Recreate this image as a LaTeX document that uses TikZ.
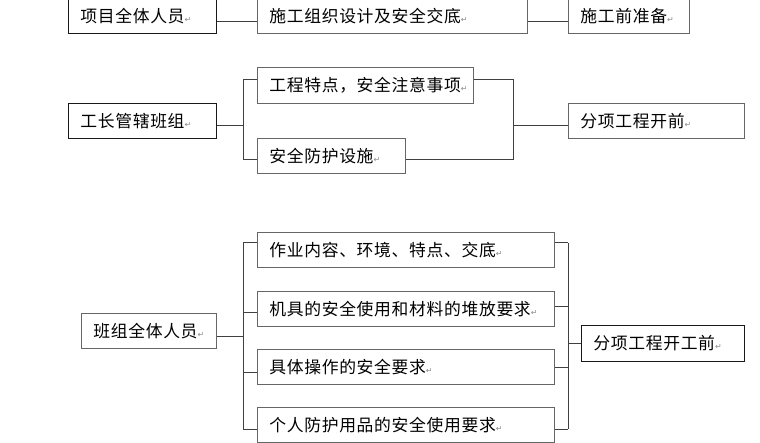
\documentclass[tikz,border=0pt]{standalone}
\usepackage{fontspec}
\newfontfamily\cjk[LetterSpace=4]{Noto Sans CJK SC}
\newfontfamily\markfont{DejaVu Sans}
\usetikzlibrary{positioning}
\newcommand{\retmark}{{\markfont\fontsize{8}{8}\selectfont\textcolor{black!45}{↵}}}
\tikzset{
  stepbox/.style={
    draw=black!60, line width=0.8pt,
    rectangle, anchor=north west,
    minimum height=35pt, inner xsep=12pt, inner ysep=0pt,
    align=left, font=\cjk\fontsize{16.8}{18}\selectfont
  },
  leadbox/.style={
    stepbox, draw=black!90
  },
  linkline/.style={
    draw=black!75, line width=1pt
  }
}

\begin{document}
\begin{tikzpicture}[x=1pt, y=-1pt]
    \useasboundingbox (0,0) rectangle (760,443);
    % first row
    \node[leadbox, text width=124pt] (p1) at (68,-2) {项目全体人员\retmark};
    \node[stepbox, text width=246pt] (p2) at (257,-2) {施工组织设计及安全交底\retmark};
    \node[stepbox, text width=97pt] (p3) at (568,-2) {施工前准备\retmark};
    \coordinate (r1) at (0,22);
    \draw[linkline] (p1.east |- r1) -- (p2.west |- r1);
    \draw[linkline] (p2.east |- r1) -- (p3.west |- r1);
    % second row
    \node[leadbox, text width=124pt] (f) at (68,103) {工长管辖班组\retmark};
    \node[stepbox, text width=192pt, minimum height=36pt] (f1) at (257,67) {工程特点，安全注意事项\retmark};
    \node[stepbox, text width=124pt] (f2) at (257,138) {安全防护设施\retmark};
    \node[stepbox, text width=152pt] (f3) at (568,103) {分项工程开前\retmark};
    \coordinate (s2l) at (243,126);
    \coordinate (s2r) at (513,126);
    \coordinate (a2) at (0,80);
    \coordinate (b2) at (0,160);
    \draw[linkline] (f.east |- s2l) -- (s2l);
    \draw[linkline] (f1.west |- a2) -- (s2l |- a2) -- (s2l |- b2) -- (f2.west |- b2);
    \draw[linkline] (f1.east |- a2) -- (s2r |- a2) -- (s2r |- b2) -- (f2.east |- b2);
    \draw[linkline] (s2r) -- (f3.west |- s2r);
    % third row
    \node[stepbox, text width=111pt] (g) at (81,313) {班组全体人员\retmark};
    \node[stepbox, text width=273pt] (g1) at (257,232) {作业内容、环境、特点、交底\retmark};
    \node[stepbox, text width=273pt] (g2) at (257,291) {机具的安全使用和材料的堆放要求\retmark};
    \node[stepbox, text width=273pt] (g3) at (257,349) {具体操作的安全要求\retmark};
    \node[stepbox, text width=273pt] (g4) at (257,407) {个人防护用品的安全使用要求\retmark};
    \node[leadbox, text width=139pt, minimum height=36pt] (g5) at (581,325) {分项工程开工前\retmark};
    \coordinate (s3l) at (243,337);
    \coordinate (s3r) at (568,344);
    \foreach \n/\yl/\yr in {g1/243/243, g2/313/307, g3/372/367, g4/429/429} {
      \coordinate (l\n) at (243,\yl);
      \coordinate (r\n) at (568,\yr);
      \draw[linkline] (l\n) -- (\n.west |- l\n);
      \draw[linkline] (\n.east |- r\n) -- (r\n);
    }
    \draw[linkline] (lg1) -- (lg4);
    \draw[linkline] (rg1) -- (rg4);
    \draw[linkline] (g.east |- s3l) -- (s3l);
    \draw[linkline] (s3r) -- (g5.west |- s3r);
\end{tikzpicture}
\end{document}
